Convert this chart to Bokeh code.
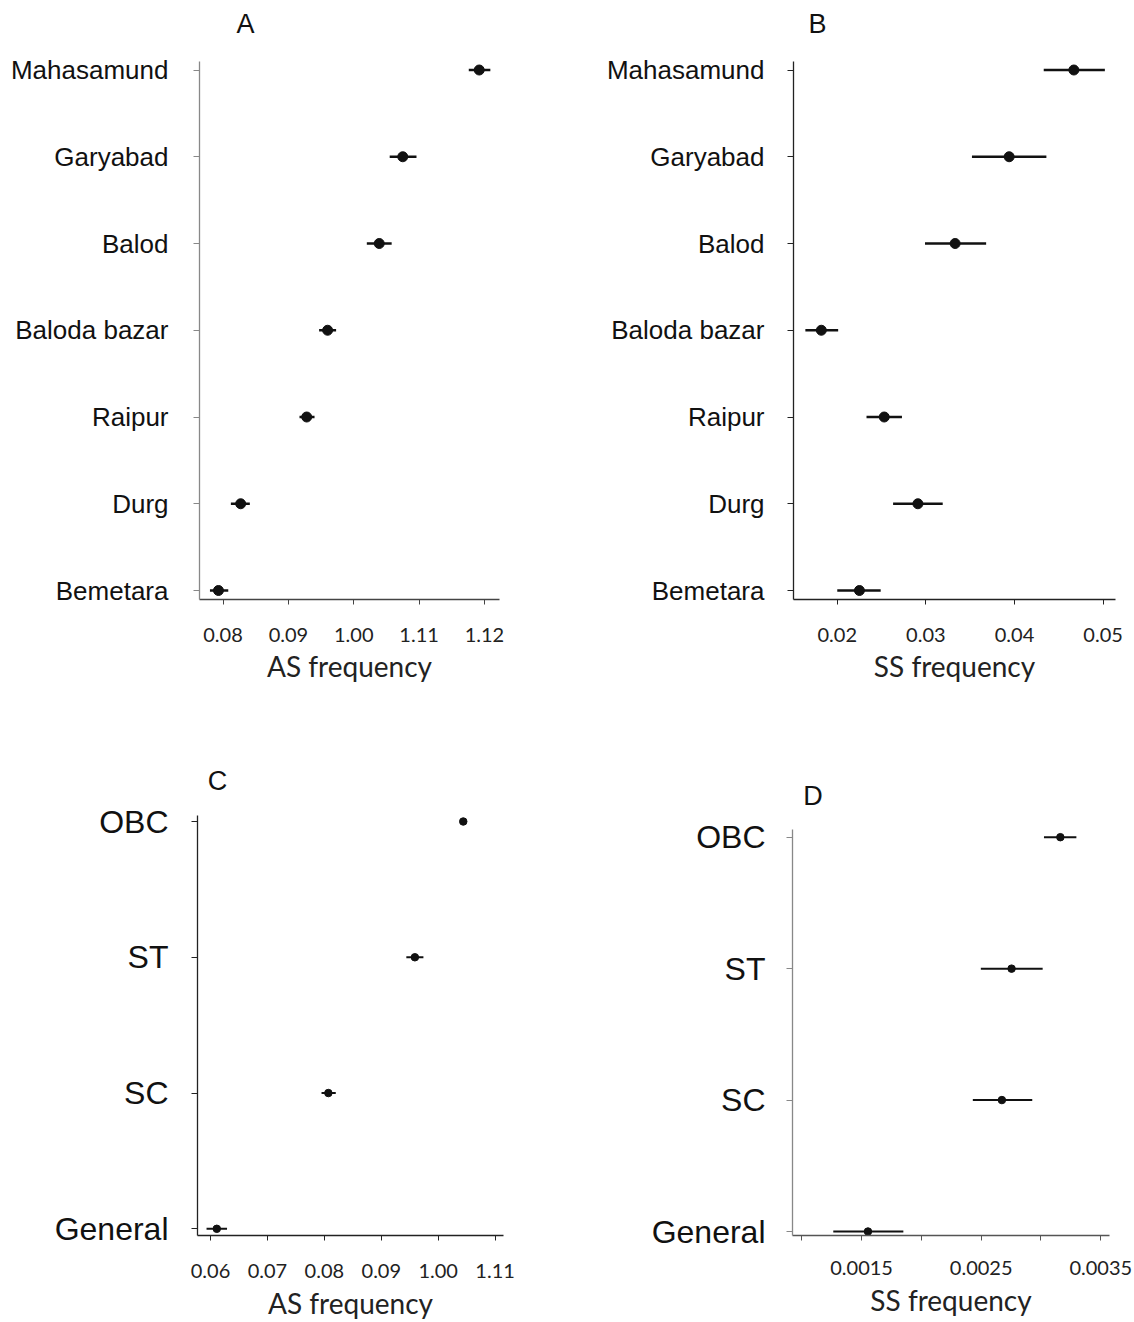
from bokeh.plotting import figure
from bokeh.layouts import column, row
from bokeh.models import FixedTicker, Range1d, ColumnDataSource, Label
from bokeh.embed import file_html
from bokeh.resources import INLINE

# ---------------- data ----------------
districts = ["Mahasamund", "Garyabad", "Balod", "Baloda bazar", "Raipur", "Durg", "Bemetara"]
as_dist_mean = [0.1192, 0.1075, 0.1039, 0.0960, 0.0928, 0.0827, 0.0793]
as_dist_lo = [0.1176, 0.1055, 0.1020, 0.0947, 0.0917, 0.0812, 0.0780]
as_dist_hi = [0.1209, 0.1096, 0.1058, 0.0973, 0.0940, 0.0841, 0.0808]
as_dist_ticks = [0.08, 0.09, 0.10, 0.11, 0.12]
as_dist_ticklabels = ["0.08", "0.09", "1.00", "1.11", "1.12"]

ss_dist_mean = [0.0467, 0.0394, 0.0333, 0.0182, 0.0253, 0.0291, 0.0225]
ss_dist_lo = [0.0433, 0.0352, 0.0299, 0.0164, 0.0233, 0.0263, 0.0200]
ss_dist_hi = [0.0502, 0.0436, 0.0368, 0.0201, 0.0273, 0.0319, 0.0249]
ss_dist_ticks = [0.02, 0.03, 0.04, 0.05]
ss_dist_ticklabels = ["0.02", "0.03", "0.04", "0.05"]

castes = ["OBC", "ST", "SC", "General"]
as_caste_mean = [0.1044, 0.0959, 0.0807, 0.0611]
as_caste_lo = [0.1038, 0.0944, 0.0795, 0.0593]
as_caste_hi = [0.1050, 0.0974, 0.0820, 0.0629]
as_caste_ticks = [0.06, 0.07, 0.08, 0.09, 0.10, 0.11]
as_caste_ticklabels = ["0.06", "0.07", "0.08", "0.09", "1.00", "1.11"]

ss_caste_mean = [0.003162, 0.002754, 0.002673, 0.001553]
ss_caste_lo = [0.003025, 0.002497, 0.002430, 0.001263]
ss_caste_hi = [0.003296, 0.003014, 0.002927, 0.001849]
ss_caste_ticks = [0.001, 0.0015, 0.002, 0.0025, 0.003, 0.0035]
ss_caste_ticklabels = ["", "0.0015", "", "0.0025", "", "0.0035"]

LABEL_FONT = "Liberation Sans"
TICK_FONT = "Lato"


def panel(letter, cats, mean, lo, hi, ticks, ticklabels, xlabel, xr,
          fig_x, fig_y, width, height,
          frame_l, frame_r, frame_t, frame_b,
          first_row_px, last_row_px, axis_top_px, letter_xy,
          cat_size, cat_standoff, tick_standoff, label_standoff,
          dot_size, bar_w, xaxis_color, yaxis_color):
    """Layout parameters are page pixels; they are converted to ranges."""
    n = len(cats)
    ys = [n - 1 - i for i in range(n)]
    ppu = (last_row_px - first_row_px) / (n - 1)
    y0 = -(frame_b - last_row_px) / ppu
    y1 = (n - 1) + (first_row_px - frame_t) / ppu
    y_axis_top = (n - 1) + (first_row_px - axis_top_px) / ppu

    src = ColumnDataSource(dict(y=ys, mean=mean, lo=lo, hi=hi))
    p = figure(width=width, height=height, output_backend="svg",
               toolbar_location=None, x_range=Range1d(*xr), y_range=Range1d(y0, y1),
               min_border_left=frame_l - fig_x,
               min_border_right=fig_x + width - frame_r,
               min_border_top=frame_t - fig_y,
               min_border_bottom=fig_y + height - frame_b)
    p.outline_line_color = None
    p.grid.visible = False
    p.background_fill_color = "white"
    p.border_fill_color = "white"

    p.segment(x0="lo", x1="hi", y0="y", y1="y", source=src,
              line_color="#111111", line_width=bar_w)
    p.scatter(x="mean", y="y", source=src, size=dot_size,
              fill_color="#111111", line_color="#111111")

    # x axis
    xa = p.xaxis[0]
    xa.ticker = FixedTicker(ticks=ticks, minor_ticks=[])
    xa.major_label_overrides = {t: l for t, l in zip(ticks, ticklabels)}
    xa.axis_label = xlabel
    xa.axis_label_text_font = TICK_FONT
    xa.axis_label_text_font_style = "normal"
    xa.axis_label_text_font_size = "28px"
    xa.axis_label_text_color = "#222222"
    xa.major_label_text_font = TICK_FONT
    xa.major_label_text_font_size = "20px"
    xa.major_label_text_color = "#222222"
    xa.major_tick_out = 5
    xa.major_tick_in = 0
    xa.minor_tick_out = 0
    xa.major_label_standoff = tick_standoff
    xa.axis_label_standoff = label_standoff
    xa.axis_line_color = xaxis_color
    xa.major_tick_line_color = xaxis_color
    xa.axis_line_width = 1.3

    # y axis (line only over the data area)
    ya = p.yaxis[0]
    ya.ticker = FixedTicker(ticks=ys, minor_ticks=[])
    ya.major_label_overrides = {y: c for y, c in zip(ys, cats)}
    ya.bounds = (y0, y_axis_top)
    ya.major_label_text_font = LABEL_FONT
    ya.major_label_text_font_size = f"{cat_size}px"
    ya.major_label_text_color = "#111111"
    ya.major_tick_out = 6
    ya.major_tick_in = 0
    ya.minor_tick_out = 0
    ya.major_label_standoff = cat_standoff
    ya.axis_line_color = yaxis_color
    ya.major_tick_line_color = yaxis_color
    ya.axis_line_width = 1.3

    # panel letter
    lxp, lyp = letter_xy
    lx = xr[0] + (lxp - frame_l) / (frame_r - frame_l) * (xr[1] - xr[0])
    ly = (n - 1) + (first_row_px - lyp) / ppu
    p.add_layout(Label(x=lx, y=ly, text=letter, text_font=LABEL_FONT,
                       text_font_size="27px", text_color="#111111",
                       text_align="center", text_baseline="middle"))
    return p


pA = panel("A", districts, as_dist_mean, as_dist_lo, as_dist_hi,
           as_dist_ticks, as_dist_ticklabels, "AS frequency", (0.0764, 0.1223),
           0, 0, 560, 720, 199, 499, 4, 599, 69.5, 590, 60.5, (245, 23),
           26, 25, 23, 4, 10, 2.7, "#444444", "#888888")
pB = panel("B", districts, ss_dist_mean, ss_dist_lo, ss_dist_hi,
           ss_dist_ticks, ss_dist_ticklabels, "SS frequency", (0.01506, 0.0514),
           560, 0, 574, 720, 793, 1115, 4, 599, 69.5, 590, 60.5, (817, 23),
           26, 23, 23, 4, 10, 2.7, "#222222", "#222222")
pC = panel("C", castes, as_caste_mean, as_caste_lo, as_caste_hi,
           as_caste_ticks, as_caste_ticklabels, "AS frequency", (0.05771, 0.11147),
           0, 720, 560, 602, 197, 503, 724, 1235, 821, 1228.3, 815, (217, 780),
           32, 23, 23, 5, 7.5, 2, "#222222", "#222222")
pD = panel("D", castes, ss_caste_mean, ss_caste_lo, ss_caste_hi,
           ss_caste_ticks, ss_caste_ticklabels, "SS frequency", (0.000922, 0.003573),
           560, 720, 574, 602, 792, 1109, 724, 1235, 836.7, 1231, 829, (812.5, 795.5),
           32, 21, 20, 5, 7.5, 2, "#555555", "#888888")

layout = column(row(pA, pB), row(pC, pD))

with open("out.html", "w") as f:
    f.write(file_html(layout, INLINE))
